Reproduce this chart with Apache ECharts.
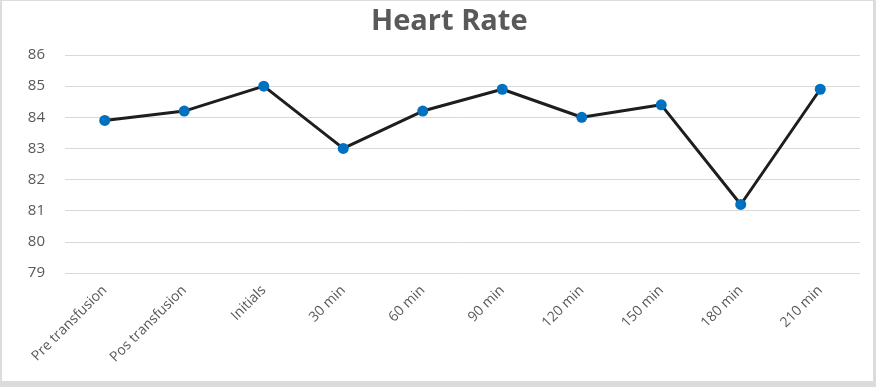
<!DOCTYPE html>
<html>
<head>
<meta charset="utf-8">
<script src="https://cdn.jsdelivr.net/npm/echarts@6/dist/echarts.min.js"></script>
<style>
  html, body { margin: 0; padding: 0; background: #dcdcdc; width: 876px; height: 387px; overflow: hidden; }
  #chart { position: absolute; left: 2px; top: 1px; width: 871px; height: 380px; background: #fff; }
</style>
</head>
<body>
<div id="chart"></div>
<script>
const categories = ['Pre transfusion', 'Pos transfusion', 'Initials', '30 min', '60 min', '90 min', '120 min', '150 min', '180 min', '210 min'];
const heartRate = [83.9, 84.2, 85.0, 83.0, 84.2, 84.9, 84.0, 84.4, 81.2, 84.9];
const yMin = 79;
const yMax = 86;

const chart = echarts.init(document.getElementById('chart'));
chart.setOption({
  animation: false,
  title: {
    text: 'Heart Rate',
    left: 364,
    top: 1,
    textStyle: { fontFamily: 'Open Sans', fontSize: 29, fontWeight: 'bold', color: '#595959' }
  },
  grid: { left: 63, right: 13, top: 54, bottom: 108 },
  xAxis: {
    type: 'category',
    data: categories,
    boundaryGap: true,
    axisLine: { show: false },
    axisTick: { show: false },
    axisLabel: { rotate: 45, fontFamily: 'Open Sans', fontSize: 14, color: '#595959', margin: 15 }
  },
  yAxis: {
    type: 'value',
    min: yMin,
    max: yMax,
    interval: 1,
    axisLine: { show: false },
    axisTick: { show: false },
    axisLabel: { fontFamily: 'Open Sans', fontSize: 15, color: '#595959', margin: 20 },
    splitLine: { lineStyle: { color: '#d9d9d9', width: 1 } }
  },
  series: [{
    type: 'line',
    data: heartRate,
    symbol: 'circle',
    symbolSize: 11,
    lineStyle: { color: '#1e1e1e', width: 3 },
    itemStyle: { color: '#0070c0' }
  }]
});
</script>
</body>
</html>
